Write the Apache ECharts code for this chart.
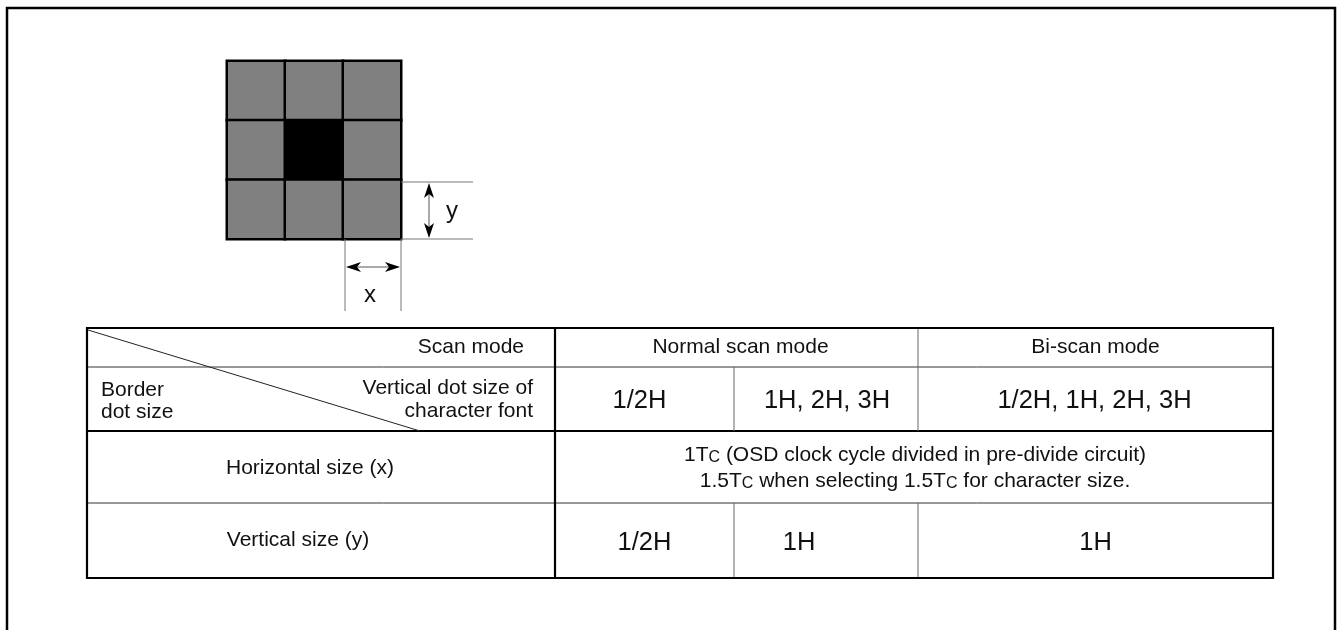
<!DOCTYPE html>
<html><head><meta charset="utf-8">
<script src="https://cdn.jsdelivr.net/npm/echarts@6/dist/echarts.min.js"></script>
<style>html,body{margin:0;padding:0;background:#fff}#c{width:1338px;height:630px}</style>
</head><body><div id="c"></div>
<script>
// ---------- data ----------
const dotCols = ['left', 'center', 'right'];
const dotRows = ['top', 'middle', 'bottom'];
const dotKinds = [[1, 1, 1], [1, 2, 1], [1, 1, 1]]; // 1 = border dot, 2 = character dot
const dimLabels = ['x', 'y'];
const cornerHeader = 'Scan mode';
const cornerColumn = ['Vertical dot size of', 'character font'];
const cornerRow = ['Border', 'dot size'];
const scanModes = ['Normal scan mode', 'Bi-scan mode'];
const fontSizes = ['1/2H', '1H, 2H, 3H', '1/2H, 1H, 2H, 3H'];
const rowLabels = ['Horizontal size (x)', 'Vertical size (y)'];
const horizontalSize = ['1T{c|C} (OSD clock cycle divided in pre-divide circuit)', '1.5T{c|C} when selecting 1.5T{c|C} for character size.'];
const verticalSize = ['1/2H', '1H', '1H'];

// ---------- layout (pixels) ----------
const FONT = '"Liberation Sans", Arial, Helvetica, sans-serif';
const frame = { l: 7, t: 8, r: 1335, b: 645 };
const colX = [87, 555, 734, 918, 1273];
const rowY = [328, 367, 431, 503, 578];
const dot = { l: 227, t: 61, w: 174, h: 178 };
const dimY = { x0: 401, x1: 473, ax: 429, y0: 182, y1: 239, lx: 452, ly: 211 };
const dimX = { y0: 239, y1: 311, ay: 267, x0: 345, x1: 401, lx: 370, ly: 295 };

const heatData = [];
dotKinds.forEach((row, r) => row.forEach((k, c) => heatData.push([c, r, k])));

function render(params, api) {
  const P = (x, y) => api.coord([x, y]);
  const kids = [];
  const line = (x1, y1, x2, y2, w, col) => {
    const a = P(x1, y1), b = P(x2, y2);
    kids.push({ type: 'line', shape: { x1: a[0], y1: a[1], x2: b[0], y2: b[1] }, style: { stroke: col || '#000', lineWidth: w } });
  };
  const text = (s, x, y, size, align, extra) => {
    const a = P(x, y);
    kids.push({ type: 'text', x: a[0], y: a[1], style: Object.assign({ text: s, font: size + 'px ' + FONT, fill: '#111', align: align || 'center', verticalAlign: 'middle' }, extra || {}) });
  };
  const arrow = (tx, ty, dx, dy) => {
    const len = 15, half = 5, back = 11;
    const nx = -dy, ny = dx;
    const t = P(tx, ty);
    const b1 = P(tx - dx * len + nx * half, ty - dy * len + ny * half);
    const m = P(tx - dx * back, ty - dy * back);
    const b2 = P(tx - dx * len - nx * half, ty - dy * len - ny * half);
    kids.push({ type: 'polygon', shape: { points: [t, b1, m, b2] }, style: { fill: '#000' } });
  };

  // outer frame
  const f = [P(frame.l, frame.b), P(frame.l, frame.t), P(frame.r, frame.t), P(frame.r, frame.b)];
  kids.push({ type: 'polyline', shape: { points: f }, style: { stroke: '#000', lineWidth: 2.5, fill: null } });

  // dimension y
  line(dimY.x0, dimY.y0, dimY.x1, dimY.y0, 1, '#777');
  line(dimY.x0, dimY.y1, dimY.x1, dimY.y1, 1, '#777');
  line(dimY.ax, dimY.y0 + 3, dimY.ax, dimY.y1 - 3, 1, '#555');
  arrow(dimY.ax, dimY.y0 + 1, 0, -1);
  arrow(dimY.ax, dimY.y1 - 1, 0, 1);
  text(dimLabels[1], dimY.lx, dimY.ly, 24, 'center');
  // dimension x
  line(dimX.x0, dimX.y0, dimX.x0, dimX.y1, 1, '#777');
  line(dimX.x1, dimX.y0, dimX.x1, dimX.y1, 1, '#777');
  line(dimX.x0 + 3, dimX.ay, dimX.x1 - 3, dimX.ay, 1, '#555');
  arrow(dimX.x0 + 1, dimX.ay, -1, 0);
  arrow(dimX.x1 - 1, dimX.ay, 1, 0);
  text(dimLabels[0], dimX.lx, dimX.ly, 24, 'center');

  // table lines
  line(colX[0], rowY[1], colX[4], rowY[1], 1, '#333');
  line(colX[0], rowY[2], colX[4], rowY[2], 2.2, '#000');
  line(colX[0], rowY[3], colX[4], rowY[3], 1, '#333');
  line(colX[1], rowY[0], colX[1], rowY[4], 2.2, '#000');
  line(colX[3], rowY[0], colX[3], rowY[2], 1, '#666');
  line(colX[3], rowY[3], colX[3], rowY[4], 1, '#666');
  line(colX[2], rowY[1], colX[2], rowY[2], 1, '#666');
  line(colX[2], rowY[3], colX[2], rowY[4], 1, '#666');
  // diagonal
  line(colX[0] + 1, rowY[0] + 2, 420, rowY[2], 1, '#222');
  // outer table border
  const tb = [P(colX[0], rowY[0]), P(colX[4], rowY[0]), P(colX[4], rowY[4]), P(colX[0], rowY[4])];
  kids.push({ type: 'polygon', shape: { points: tb }, style: { stroke: '#000', lineWidth: 2.2, fill: null } });

  // corner cell texts
  text(cornerHeader, 524, 347, 21, 'right');
  text(cornerColumn[0], 533, 388, 21, 'right');
  text(cornerColumn[1], 533, 411, 21, 'right');
  text(cornerRow[0], 101, 390, 21, 'left');
  text(cornerRow[1], 101, 412, 21, 'left');
  // headers
  text(scanModes[0], (colX[1] + colX[3]) / 2 + 4, 347, 21, 'center');
  text(scanModes[1], (colX[3] + colX[4]) / 2, 347, 21, 'center');
  text(fontSizes[0], (colX[1] + colX[2]) / 2 - 5, 401, 25.5, 'center');
  text(fontSizes[1], (colX[2] + colX[3]) / 2 + 1, 401, 25.5, 'center');
  text(fontSizes[2], (colX[3] + colX[4]) / 2 - 1, 401, 25.5, 'center');
  // rows
  text(rowLabels[0], 310, 468, 21, 'center');
  text(rowLabels[1], 298, 540, 21, 'center');
  const rich = { c: { font: '16px ' + FONT, fill: '#111', verticalAlign: 'bottom' } };
  text(horizontalSize[0], 915, 455, 21, 'center', { rich: rich });
  text(horizontalSize[1], 915, 481, 21, 'center', { rich: rich });
  text(verticalSize[0], (colX[1] + colX[2]) / 2, 543, 25.5, 'center');
  text(verticalSize[1], 799, 543, 25.5, 'center');
  text(verticalSize[2], (colX[3] + colX[4]) / 2, 543, 25.5, 'center');

  return { type: 'group', children: kids };
}

const chart = echarts.init(document.getElementById('c'), null, { renderer: 'canvas' });
chart.setOption({
  animation: false,
  backgroundColor: '#fff',
  grid: [
    { left: 0, top: 0, width: 1338, height: 630 },
    { left: dot.l, top: dot.t, width: dot.w, height: dot.h }
  ],
  xAxis: [
    { type: 'value', min: 0, max: 1338, show: false, gridIndex: 0 },
    { type: 'category', data: dotCols, show: false, gridIndex: 1 }
  ],
  yAxis: [
    { type: 'value', min: 0, max: 630, inverse: true, show: false, gridIndex: 0 },
    { type: 'category', data: dotRows, inverse: true, show: false, gridIndex: 1 }
  ],
  visualMap: {
    show: false, type: 'piecewise', seriesIndex: 0, dimension: 2,
    pieces: [{ value: 1, color: '#808080' }, { value: 2, color: '#000000' }]
  },
  series: [
    {
      type: 'heatmap', xAxisIndex: 1, yAxisIndex: 1, data: heatData,
      itemStyle: { borderColor: '#000', borderWidth: 2.5 },
      emphasis: { disabled: true }
    },
    {
      type: 'custom', xAxisIndex: 0, yAxisIndex: 0, data: [[0, 0]],
      renderItem: render, clip: false, silent: true
    }
  ]
});
</script>
</body></html>
